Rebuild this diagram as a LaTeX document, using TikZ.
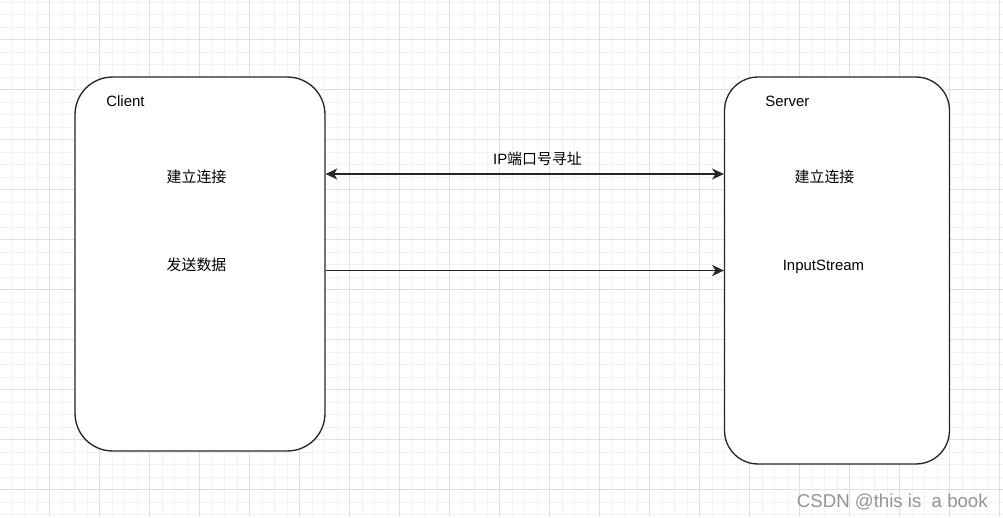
\documentclass[tikz,border=0pt]{standalone}
\usepackage{fontspec}
\setmainfont{Liberation Sans}
\newfontfamily\cjk{Noto Sans CJK SC}
\usetikzlibrary{arrows.meta,positioning}

\begin{document}
\begin{tikzpicture}[x=0.02cm,y=-0.02cm,
    box/.style={draw=black!85,line width=0.75pt,fill=white,inner sep=0pt},
    conn/.style={line width=0.8pt,draw=black!85,
      >={Stealth[length=6.6pt,width=6.2pt,inset=1.8pt]}},
    txt/.style={inner sep=0pt,anchor=base,font=\fontsize{8.5pt}{10pt}\selectfont}]
    \useasboundingbox (0,0) rectangle (1003,517);
    \fill[white] (0,0) rectangle (1003,517);

    % grid
    \foreach \i in {0,...,80}
      \draw[black!5,line width=0.5pt] (-0.5+12.5*\i,0) -- ++(0,517);
    \foreach \i in {0,...,41}
      \draw[black!5,line width=0.5pt] (0,2+12.5*\i) -- ++(1003,0);
    \foreach \i in {0,...,20}
      \draw[black!12,line width=0.5pt] (-0.5+50*\i,0) -- ++(0,517);
    \foreach \i in {1,...,10}
      \draw[black!12,line width=0.5pt] (0,-10.5+50*\i) -- ++(1003,0);

    % the two sides
    \node[box,rounded corners=0.75cm,minimum width=5cm,minimum height=7.48cm]
      (client) at (200,264) {};
    \node[box,rounded corners=0.67cm,minimum width=4.5cm,minimum height=7.74cm]
      (server) at (837,270.5) {};

    \node[txt,anchor=base west] (clientname) at (106,107) {Client};
    \node[txt] (clientconn) at (196.5,182) {\cjk 建立连接};
    \node[txt] (clientsend) at (196.5,270.5) {\cjk 发送数据};

    \node[txt,anchor=base west] (servername) at (765,107) {Server};
    \node[txt] (serverconn) at (824.5,182) {\cjk 建立连接};
    \node[txt] (serverin) at (823.5,270) {InputStream};

    % connectors
    \draw[conn,<->] (client.east |- 0,174) -- (server.west |- 0,174);
    \node[txt] (iplabel) at (537.5,164) {IP\cjk 端口号寻址};
    \draw[conn,->] (client.east |- 0,270.5) -- (server.west |- 0,270.5);

    \node[inner sep=0pt,anchor=base east,text=black!42,
      font=\fontsize{10.6pt}{12pt}\selectfont] (mark) at (988,507)
      {CSDN @this is\ \ a book};
  \end{tikzpicture}
\end{document}
